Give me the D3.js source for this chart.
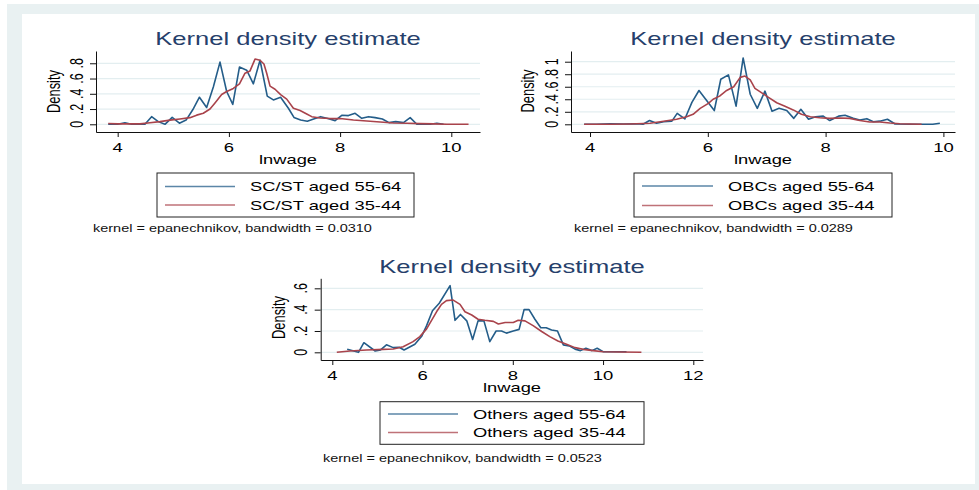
<!DOCTYPE html>
<html>
<head>
<meta charset="utf-8">
<script src="https://cdn.jsdelivr.net/npm/d3@7"></script>
<style>
    body { margin: 0; background: #fff; }
    text { font-family: "Liberation Sans", Arial, sans-serif; }
</style>
</head>
<body>
<svg id="chart" width="979" height="490"></svg>
<script>
// ---- data: [lnwage, density] ----
var scstOld = [[3.83,0],[4.0,0],[4.13,0.02],[4.25,0],[4.49,0],[4.61,0.10],[4.73,0.035],[4.85,0],[4.98,0.09],
    [5.11,0.015],[5.23,0.055],[5.35,0.19],[5.47,0.355],[5.6,0.22],[5.72,0.49],[5.84,0.815],[5.96,0.43],[6.07,0.26],
    [6.19,0.75],[6.32,0.71],[6.44,0.53],[6.56,0.84],[6.69,0.37],[6.8,0.32],[6.93,0.355],[7.07,0.21],[7.17,0.09],
    [7.29,0.057],[7.41,0.04],[7.55,0.075],[7.65,0.10],[7.78,0.075],[7.91,0.048],[8.03,0.118],[8.15,0.114],[8.27,0.144],
    [8.39,0.079],[8.51,0.10],[8.63,0.087],[8.76,0.07],[8.88,0.022],[9.0,0.035],[9.14,0.022],[9.26,0.087],[9.38,0],
    [9.62,0],[9.74,0.013],[9.86,0]];
var scstYoung = [[3.83,0.01],[4.0,0.005],[4.4,0.005],[4.58,0.02],[4.76,0.035],[4.94,0.055],[5.12,0.07],[5.3,0.087],
    [5.42,0.12],[5.54,0.145],[5.66,0.2],[5.75,0.28],[5.87,0.39],[5.96,0.43],[6.08,0.47],[6.19,0.53],[6.29,0.67],
    [6.38,0.70],[6.47,0.855],[6.56,0.84],[6.63,0.79],[6.68,0.67],[6.74,0.5],[6.83,0.46],[6.93,0.39],[7.04,0.33],
    [7.16,0.21],[7.28,0.18],[7.4,0.135],[7.49,0.10],[7.64,0.083],[7.82,0.075],[8.0,0.075],[8.24,0.057],[8.48,0.044],
    [8.72,0.03],[8.96,0.017],[9.2,0.013],[9.44,0.009],[9.68,0.005],[9.92,0],[10.31,0]];

var obcOld = [[3.9,0],[4.11,0],[4.34,0.01],[4.57,0.005],[4.79,0.01],[4.9,0],[5.01,0.06],[5.13,0.016],[5.25,0.04],
    [5.39,0.05],[5.48,0.175],[5.61,0.085],[5.73,0.35],[5.85,0.54],[5.98,0.38],[6.11,0.22],[6.22,0.72],[6.35,0.79],
    [6.48,0.29],[6.6,1.06],[6.72,0.48],[6.84,0.255],[6.97,0.53],[7.09,0.21],[7.21,0.255],[7.34,0.22],[7.46,0.095],
    [7.58,0.24],[7.71,0.08],[7.83,0.12],[7.96,0.13],[8.07,0.06],[8.22,0.13],[8.33,0.145],[8.47,0.095],[8.58,0.07],
    [8.7,0.09],[8.81,0.04],[8.92,0.05],[9.05,0.08],[9.18,0.005],[9.43,0],[9.69,0],[9.82,0],[9.94,0.016]];
var obcYoung = [[3.9,0],[4.34,0],[4.68,0.005],[5.02,0.016],[5.25,0.048],[5.47,0.08],[5.64,0.12],[5.75,0.16],
    [5.87,0.255],[6.01,0.335],[6.09,0.4],[6.2,0.45],[6.32,0.54],[6.44,0.6],[6.55,0.75],[6.63,0.77],[6.72,0.71],
    [6.8,0.575],[6.91,0.505],[7.03,0.43],[7.17,0.345],[7.31,0.29],[7.45,0.23],[7.59,0.16],[7.74,0.12],[7.9,0.105],
    [8.07,0.095],[8.24,0.1],[8.41,0.095],[8.58,0.06],[8.75,0.037],[8.92,0.037],[9.09,0.02],[9.26,0.01],[9.43,0.005],
    [9.63,0]];

var othOld = [[4.33,0.028],[4.58,0],[4.7,0.09],[4.95,0.0125],[5.07,0.022],[5.2,0.07],[5.35,0.044],[5.48,0.047],
    [5.59,0.022],[5.83,0.075],[5.98,0.15],[6.09,0.25],[6.22,0.39],[6.37,0.46],[6.61,0.625],[6.72,0.30],[6.84,0.355],
    [6.98,0.295],[7.11,0.12],[7.23,0.295],[7.36,0.295],[7.49,0.10],[7.63,0.2],[7.75,0.2],[7.86,0.18],[8.01,0.2],
    [8.14,0.215],[8.25,0.4],[8.36,0.4],[8.49,0.31],[8.62,0.23],[8.74,0.23],[8.86,0.21],[8.99,0.2],[9.12,0.07],
    [9.25,0.06],[9.38,0.03],[9.5,0.016],[9.62,0.038],[9.75,0.016],[9.87,0.038],[10.0,0.006],[10.22,0.006],[10.52,0.006]];
var othYoung = [[4.1,0],[4.39,0.0125],[4.76,0.022],[5.13,0.028],[5.35,0.031],[5.57,0.053],[5.79,0.1],[5.94,0.147],
    [6.09,0.22],[6.2,0.3],[6.31,0.38],[6.42,0.45],[6.53,0.485],[6.68,0.49],[6.83,0.45],[6.94,0.38],[7.09,0.35],
    [7.23,0.31],[7.38,0.3],[7.57,0.29],[7.68,0.265],[7.83,0.28],[8.01,0.28],[8.12,0.3],[8.27,0.295],[8.45,0.25],
    [8.64,0.195],[8.82,0.147],[9.0,0.106],[9.19,0.075],[9.38,0.044],[9.56,0.028],[9.78,0.016],[10.0,0.006],
    [10.37,0.003],[10.85,0]];

var xTicksShort = [4, 6, 8, 10];
var xTicksLong = [4, 6, 8, 10, 12];
var yTicks1 = [0, 0.2, 0.4, 0.6, 0.8];
var yTicks2 = [0, 0.2, 0.4, 0.6, 0.8, 1];
var yTicks3 = [0, 0.2, 0.4, 0.6];
var legendNames1 = ["SC/ST aged 55-64", "SC/ST aged 35-44"];
var legendNames2 = ["OBCs aged 55-64", "OBCs aged 35-44"];
var legendNames3 = ["Others aged 55-64", "Others aged 35-44"];
var bandwidths = ["0.0310", "0.0289", "0.0523"];

var SX = 1.42;   // the picture is stretched sideways, text too
var blue = "#245d89", red = "#a9434b";

var svg = d3.select("#chart");

svg.append("rect").attr("x", 7).attr("y", 4).attr("width", 972).attr("height", 486).attr("fill", "#e9f1f2");
svg.append("rect").attr("x", 22).attr("y", 14).attr("width", 953).attr("height", 470).attr("fill", "#fff");

function addText(g, x, y, str, size, anchor, rotate, color) {
    return g.append("text")
        .attr("transform", "translate(" + x + "," + y + ") scale(" + SX + ",1)" + (rotate ? " rotate(-90)" : ""))
        .attr("text-anchor", anchor)
        .attr("font-size", size)
        .attr("fill", color || "#000")
        .text(str);
}

function fmt(d) {
    if (d == 0) return "0";
    if (d == 1) return "1";
    return String(d).replace(/^0/, "");
}

function drawPanel(c) {
    var g = svg.append("g");

    var x = d3.scaleLinear().domain(c.xDomain).range(c.xRange);
    var y = d3.scaleLinear().domain(c.yDomain).range(c.yRange);

    // grid
    g.append("g")
        .selectAll("line")
        .data(c.yTicks)
        .enter().append("line")
        .attr("x1", c.xRange[0])
        .attr("x2", c.xRange[1])
        .attr("y1", function (d) { return y(d); })
        .attr("y2", function (d) { return y(d); })
        .attr("stroke", "#e3eef0")
        .attr("stroke-width", 1.2);

    var axisX = d3.axisBottom(x).tickValues(c.xTicks).tickSize(5).tickSizeOuter(0).tickFormat("");
    var axisY = d3.axisLeft(y).tickValues(c.yTicks).tickSize(6).tickSizeOuter(0).tickFormat("");

    var gx = g.append("g")
        .attr("transform", "translate(0," + c.yRange[0] + ")")
        .call(axisX);
    var gy = g.append("g")
        .attr("transform", "translate(" + c.xRange[0] + ",0)")
        .call(axisY);
    gx.selectAll("path, line").attr("stroke", "#111");
    gy.selectAll("path, line").attr("stroke", "#111");

    c.xTicks.forEach(function (t) {
        addText(g, x(t), c.yRange[0] + 19.5, String(t), 13, "middle");
    });
    c.yTicks.forEach(function (t) {
        addText(g, c.xRange[0] - 13.5, y(t), fmt(t), 12.5, "middle", true);
    });

    var line = d3.line()
        .x(function (d) { return x(d[0]); })
        .y(function (d) { return y(d[1]); });

    g.append("path")
        .datum(c.old)
        .attr("fill", "none")
        .attr("stroke", blue)
        .attr("stroke-width", 1.6)
        .attr("stroke-linejoin", "round")
        .attr("d", line);

    g.append("path")
        .datum(c.young)
        .attr("fill", "none")
        .attr("stroke", red)
        .attr("stroke-width", 1.6)
        .attr("stroke-linejoin", "round")
        .attr("d", line);

    addText(g, c.title[0], c.title[1], "Kernel density estimate", 18, "middle", false, "#26406b");
    addText(g, c.title[0], c.xLabelY, "lnwage", 12.9, "middle");
    addText(g, c.yLabel[0], c.yLabel[1], "Density", 12.9, "middle", true);

    // legend
    var b = c.legendBox;
    g.append("rect")
        .attr("x", b[0]).attr("y", b[1])
        .attr("width", b[2] - b[0]).attr("height", b[3] - b[1])
        .attr("fill", "#fff")
        .attr("stroke", "#222")
        .attr("stroke-width", 1);

    [blue, red].forEach(function (col, i) {
        g.append("line")
            .attr("x1", c.legendLine[0]).attr("x2", c.legendLine[1])
            .attr("y1", c.legendRows[i]).attr("y2", c.legendRows[i])
            .attr("stroke", col)
            .attr("stroke-opacity", 0.75)
            .attr("stroke-width", 1.3);
        addText(g, c.legendTextX, c.legendRows[i] + 4.6, c.names[i], 12.9, "start");
    });

    addText(g, c.note[0], c.note[1], "kernel = epanechnikov, bandwidth = " + c.bw, 10.2, "start", false, "#111");
}

drawPanel({
    xDomain: [3.61, 10.516], xRange: [96, 480],
    yDomain: [-0.101, 0.961], yRange: [132, 51],
    xTicks: xTicksShort, yTicks: yTicks1,
    old: scstOld, young: scstYoung,
    title: [288, 45], xLabelY: 164, yLabel: [59.5, 91.5],
    legendBox: [157, 173, 414, 217], legendLine: [165, 235], legendTextX: 250, legendRows: [186.5, 205],
    names: legendNames1, note: [93, 232], bw: bandwidths[0]
});

drawPanel({
    xDomain: [3.677, 10.197], xRange: [571, 955],
    yDomain: [-0.123, 1.171], yRange: [132, 51],
    xTicks: xTicksShort, yTicks: yTicks2,
    old: obcOld, young: obcYoung,
    title: [763, 45], xLabelY: 164, yLabel: [534, 91],
    legendBox: [634, 173, 892, 217], legendLine: [642, 713], legendTextX: 728, legendRows: [186, 205.5],
    names: legendNames2, note: [574, 232], bw: bandwidths[1]
});

drawPanel({
    xDomain: [3.743, 12.215], xRange: [320.7, 703],
    yDomain: [-0.072, 0.694], yRange: [360, 278.3],
    xTicks: xTicksLong, yTicks: yTicks3,
    old: othOld, young: othYoung,
    title: [512, 273], xLabelY: 391.5, yLabel: [284.5, 317.5],
    legendBox: [380, 401.7, 644, 444.3], legendLine: [388, 458], legendTextX: 473, legendRows: [414, 432.5],
    names: legendNames3, note: [323, 462], bw: bandwidths[2]
});
</script>
</body>
</html>
